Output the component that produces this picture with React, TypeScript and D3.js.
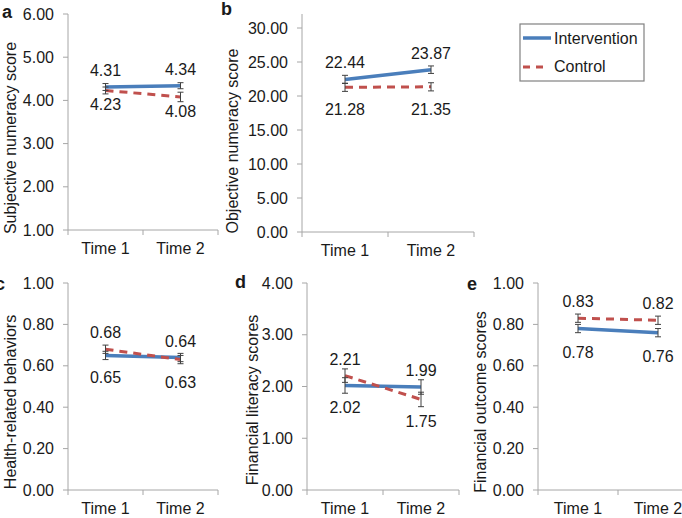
import React from 'react';
import * as d3 from 'd3';

const times = ['Time 1', 'Time 2'];
const panelLetters = ['a', 'b', 'c', 'd', 'e'];
const panelTitles = [
  'Subjective numeracy score',
  'Objective numeracy score',
  'Health-related behaviors',
  'Financial literacy scores',
  'Financial outcome scores',
];
const interventionMeans = [[4.31, 4.34], [22.44, 23.87], [0.65, 0.64], [2.02, 1.99], [0.78, 0.76]];
const controlMeans = [[4.23, 4.08], [21.28, 21.35], [0.68, 0.63], [2.21, 1.75], [0.83, 0.82]];
const interventionErr = [[0.08, 0.07], [0.6, 0.55], [0.02, 0.02], [0.15, 0.14], [0.02, 0.02]];
const controlErr = [[0.08, 0.11], [0.6, 0.6], [0.02, 0.02], [0.13, 0.14], [0.02, 0.02]];
const yDomains = [[1, 6], [0, 30], [0, 1], [0, 4], [0, 1]];
const yTickSteps = [1, 5, 0.2, 1, 0.2];
const seriesNames = ['Intervention', 'Control'];

const BLUE = '#4a7ebb';
const RED = '#c0504d';
const AXIS = '#a6a6a6';
const FONT = '"Liberation Sans", Arial, sans-serif';

// pixel layout of each small panel
const layouts = [
  {x0: 68, x1: 218, yTop: 14, yBot: 230, axisTop: 14, lx: 2, ly: 18, tx: 16, ty: 138, below: 20},
  {x0: 302, x1: 474, yTop: 28, yBot: 232, axisTop: 14, lx: 221, ly: 15, tx: 238, ty: 141, below: 28},
  {x0: 68, x1: 218, yTop: 283, yBot: 490, axisTop: 283, lx: -5, ly: 290, tx: 16, ty: 402, below: 28},
  {x0: 307, x1: 459, yTop: 283, yBot: 490, axisTop: 283, lx: 235, ly: 288, tx: 258, ty: 400, below: 28},
  {x0: 538, x1: 698, yTop: 283, yBot: 490, axisTop: 283, lx: 467, ly: 290, tx: 486, ty: 402, below: 29},
];

function Panel({i}: {i: number}) {
  const L = layouts[i];
  const x = d3.scaleBand<string>().domain(times).range([L.x0, L.x1]);
  const y = d3.scaleLinear().domain(yDomains[i]).range([L.yBot, L.yTop]);
  const [lo, hi] = yDomains[i];
  const ticks = d3.range(lo, hi + yTickSteps[i] / 2, yTickSteps[i]);
  const cx = (t: string) => x(t)! + x.bandwidth() / 2;
  const line = d3.line<number>().x((_, k) => cx(times[k])).y(v => y(v));
  const series = [
    {means: interventionMeans[i], err: interventionErr[i], color: BLUE, dash: null as string | null, w: 3.5},
    {means: controlMeans[i], err: controlErr[i], color: RED, dash: '8,6', w: 3},
  ];
  const bounds = [...times.map(t => x(t)!), L.x1];

  return <g>
    {/* axes */}
    <line x1={L.x0} x2={L.x0} y1={L.axisTop} y2={L.yBot} stroke={AXIS}/>
    <line x1={L.x0} x2={L.x1} y1={L.yBot} y2={L.yBot} stroke={AXIS}/>
    {ticks.map(v => <g key={v}>
      <line x1={L.x0 - 5} x2={L.x0} y1={y(v)} y2={y(v)} stroke={AXIS}/>
      <text x={L.x0 - 14} y={y(v) + 5.5} textAnchor="end" fontSize={16}>{v.toFixed(2)}</text>
    </g>)}
    {bounds.map((b, k) => <line key={k} x1={b} x2={b} y1={L.yBot} y2={L.yBot + 5} stroke={AXIS}/>)}
    {times.map(t => <text key={t} x={cx(t)} y={L.yBot + 24} textAnchor="middle" fontSize={16}>{t}</text>)}
    <text transform={`translate(${L.tx},${L.ty}) rotate(-90)`} textAnchor="middle" fontSize={16}>{panelTitles[i]}</text>
    <text x={L.lx} y={L.ly} fontSize={18} fontWeight="bold">{panelLetters[i]}</text>

    {/* lines */}
    {series.map((s, k) => <path key={k} d={line(s.means)!} fill="none" stroke={s.color}
                                strokeWidth={s.w} strokeDasharray={s.dash ?? undefined}/>)}
    {/* error bars */}
    {series.map((s, k) => s.means.map((m, j) => {
      const px = cx(times[j]);
      const top = y(m + s.err[j]), bot = y(m - s.err[j]);
      return <g key={`${k}-${j}`} stroke="#404040" strokeWidth={1}>
        <line x1={px} x2={px} y1={top} y2={bot}/>
        <line x1={px - 3} x2={px + 3} y1={top} y2={top}/>
        <line x1={px - 3} x2={px + 3} y1={bot} y2={bot}/>
      </g>;
    }))}
    {/* value labels: the higher one above, the lower one below */}
    {times.map((t, j) => {
      const a = interventionMeans[i][j], b = controlMeans[i][j];
      const high = Math.max(a, b), low = Math.min(a, b);
      return <g key={t}>
        <text x={cx(t)} y={y(high) - 11} textAnchor="middle" fontSize={16}>{high.toFixed(2)}</text>
        <text x={cx(t)} y={y(low) + L.below} textAnchor="middle" fontSize={16}>{low.toFixed(2)}</text>
      </g>;
    })}
  </g>;
}

export default function App() {
  return <svg width={682} height={518} style={{position: 'absolute', left: 0, top: 0, background: '#fff'}}
              fontFamily={FONT} fill="#1a1a1a">
    {panelLetters.map((_, i) => <Panel key={i} i={i}/>)}
    {/* legend */}
    <rect x={520} y={24} width={124} height={57} fill="none" stroke="#808080" strokeWidth={1.2}/>
    <line x1={523} x2={551} y1={38} y2={38} stroke={BLUE} strokeWidth={3.5}/>
    <text x={554} y={44} fontSize={16}>{seriesNames[0]}</text>
    <line x1={523} x2={549} y1={67} y2={67} stroke={RED} strokeWidth={3} strokeDasharray="7,6"/>
    <text x={554} y={72} fontSize={16}>{seriesNames[1]}</text>
  </svg>;
}
